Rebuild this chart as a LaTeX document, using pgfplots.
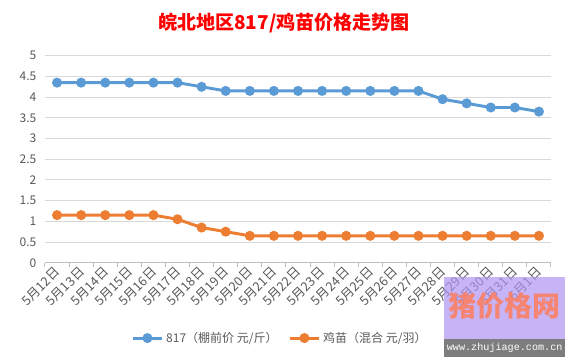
\documentclass[border=0pt]{standalone}
\usepackage{fontspec}
\setmainfont{Noto Sans CJK SC}
\newfontfamily\wmmono{Liberation Mono}
\usepackage{pgfplots}
\pgfplotsset{compat=1.18}
\definecolor{bluec}{HTML}{5B9BD5}
\definecolor{orangec}{HTML}{ED7D31}
\definecolor{txt}{HTML}{595959}
\definecolor{gridc}{HTML}{D9D9D9}
\definecolor{axc}{HTML}{BFBFBF}
\definecolor{wmpurple}{RGB}{176,149,243}
\definecolor{wmred}{RGB}{250,128,100}
\definecolor{wmgray}{RGB}{125,125,125}
\begin{document}
\begin{tikzpicture}[x=1pt,y=1pt]
\useasboundingbox (0,0) rectangle (426.75,272.25);
\fill[white] (0,0) rectangle (426.75,272.25);
\node[font=\fontsize{14.3}{16}\selectfont\bfseries, text=red] at (213,255) {皖北地区817/鸡苗价格走势图};
\begin{axis}[
  at={(33.75pt,75.2pt)}, anchor=south west, scale only axis,
  width=379.5pt, height=155.25pt,
  xmin=-0.5, xmax=20.5, ymin=0, ymax=5,
  ytick={0,0.5,1,1.5,2,2.5,3,3.5,4,4.5,5},
  yticklabel style={font=\fontsize{9}{10}\selectfont, text=txt, /pgf/number format/assume math mode=true},
  ymajorgrids, grid style={gridc, line width=0.75pt},
  axis x line*=bottom, axis y line*=left,
  y axis line style={draw=none},
  x axis line style={axc, line width=0.75pt},
  ytick style={draw=none},
  xtick={-0.5,0.5,...,20.5},
  x tick label as interval,
  xticklabels={5月12日,5月13日,5月14日,5月15日,5月16日,5月17日,5月18日,5月19日,5月20日,5月21日,5月22日,5月23日,5月24日,5月25日,5月26日,5月27日,5月28日,5月29日,5月30日,5月31日,6月1日},
  x tick label style={rotate=45, anchor=east, font=\fontsize{9.6}{10}\selectfont, text=txt, inner sep=1pt, yshift=-2pt},
  x tick style={axc, line width=0.75pt},
  tick align=outside, major tick length=3pt,
  legend style={at={(0.465,-0.364)}, anchor=center, draw=none, fill=none,
    font=\fontsize{9}{10}\selectfont, text=txt, legend columns=2,
    /tikz/every even column/.append style={column sep=6pt}},
  legend image code/.code={\draw[mark repeat=2,mark phase=2,#1] plot coordinates {(0pt,0pt) (11pt,0pt) (22pt,0pt)};},
]
\addplot[bluec, line width=2.2pt, mark=*, mark size=2.6pt] coordinates {
(0,4.35) (1,4.35) (2,4.35) (3,4.35) (4,4.35) (5,4.35) (6,4.25) (7,4.15) (8,4.15) (9,4.15) (10,4.15)
(11,4.15) (12,4.15) (13,4.15) (14,4.15) (15,4.15) (16,3.95) (17,3.85) (18,3.75) (19,3.75) (20,3.65)};
\addlegendentry{817（棚前价 元/斤）}
\addplot[orangec, line width=2.2pt, mark=*, mark size=2.6pt] coordinates {
(0,1.15) (1,1.15) (2,1.15) (3,1.15) (4,1.15) (5,1.05) (6,0.85) (7,0.75) (8,0.65) (9,0.65) (10,0.65)
(11,0.65) (12,0.65) (13,0.65) (14,0.65) (15,0.65) (16,0.65) (17,0.65) (18,0.65) (19,0.65) (20,0.65)};
\addlegendentry{鸡苗（混合 元/羽）}
\end{axis}
% watermark
\fill[wmpurple, fill opacity=0.7] (333,18) rectangle (423.75,64.5);
\fill[wmgray] (333,4.5) rectangle (423.75,18);
\node[font=\fontsize{21}{22}\selectfont\bfseries, text=wmred, text opacity=0.9] at (378.5,43) {猪价格网};
\node[font=\wmmono\fontsize{7.6}{8}\selectfont, text=white] at (378.5,11.2) {www.zhujiage.com.cn};
\end{tikzpicture}
\end{document}
